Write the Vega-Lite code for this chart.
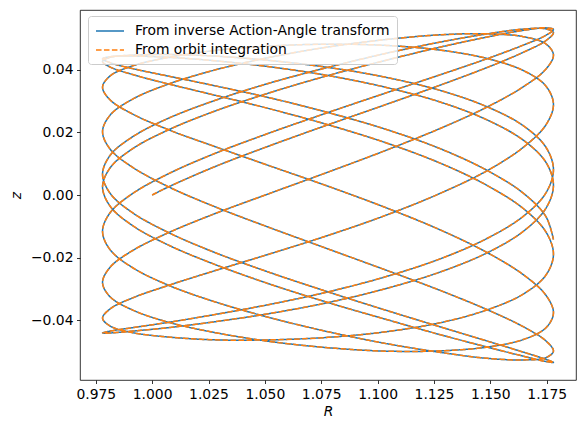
{
"$schema": "https://vega.github.io/schema/vega-lite/v6.json",
"width": 496, "height": 370,
"autosize": {"type": "none"},
"padding": {"left": 80, "top": 10, "right": 11, "bottom": 52},
"background": "white",
"config": {"view": {"stroke": "black", "strokeWidth": 0.8}, "font": "DejaVu Sans"},
"datasets": {"orbit": [
{"i":2,"R":1.0,"z":0.0},
{"i":3,"R":1.0073,"z":0.0026},{"i":4,"R":1.028,"z":0.0091},{"i":5,"R":1.0521,"z":0.0157},{"i":6,"R":1.078,"z":0.0224},{"i":7,"R":1.1039,"z":0.0289},{"i":8,"R":1.128,"z":0.0351},{"i":9,"R":1.1487,"z":0.0407},{"i":10,"R":1.1646,"z":0.0455},{"i":11,"R":1.1746,"z":0.0492},{"i":12,"R":1.178,"z":0.0518},
{"i":13,"R":1.1746,"z":0.0530},{"i":14,"R":1.1646,"z":0.0529},{"i":15,"R":1.1487,"z":0.0514},{"i":16,"R":1.128,"z":0.0488},{"i":17,"R":1.1039,"z":0.0452},{"i":18,"R":1.078,"z":0.0407},{"i":19,"R":1.0521,"z":0.0357},{"i":20,"R":1.028,"z":0.0302},{"i":21,"R":1.0073,"z":0.0245},{"i":22,"R":0.9914,"z":0.0186},{"i":23,"R":0.9814,"z":0.0127},{"i":24,"R":0.978,"z":0.0066},
{"i":25,"R":0.9814,"z":0.0005},{"i":26,"R":0.9914,"z":-0.0057},{"i":27,"R":1.0073,"z":-0.0120},{"i":28,"R":1.028,"z":-0.0184},{"i":29,"R":1.0521,"z":-0.0247},{"i":30,"R":1.078,"z":-0.0309},{"i":31,"R":1.1039,"z":-0.0368},{"i":32,"R":1.128,"z":-0.0421},{"i":33,"R":1.1487,"z":-0.0466},{"i":34,"R":1.1646,"z":-0.0501},{"i":35,"R":1.1746,"z":-0.0524},{"i":36,"R":1.178,"z":-0.0534},
{"i":37,"R":1.1746,"z":-0.0531},{"i":38,"R":1.1646,"z":-0.0514},{"i":39,"R":1.1487,"z":-0.0485},{"i":40,"R":1.128,"z":-0.0446},{"i":41,"R":1.1039,"z":-0.0397},{"i":42,"R":1.078,"z":-0.0343},{"i":43,"R":1.0521,"z":-0.0284},{"i":44,"R":1.028,"z":-0.0222},{"i":45,"R":1.0073,"z":-0.0160},{"i":46,"R":0.9914,"z":-0.0098},{"i":47,"R":0.9814,"z":-0.0036},{"i":48,"R":0.978,"z":0.0026},
{"i":49,"R":0.9814,"z":0.0087},{"i":50,"R":0.9914,"z":0.0148},{"i":51,"R":1.0073,"z":0.0208},{"i":52,"R":1.028,"z":0.0268},{"i":53,"R":1.0521,"z":0.0326},{"i":54,"R":1.078,"z":0.0381},{"i":55,"R":1.1039,"z":0.0430},{"i":56,"R":1.128,"z":0.0472},{"i":57,"R":1.1487,"z":0.0504},{"i":58,"R":1.1646,"z":0.0525},{"i":59,"R":1.1746,"z":0.0533},{"i":60,"R":1.178,"z":0.0528},
{"i":61,"R":1.1746,"z":0.0509},{"i":62,"R":1.1646,"z":0.0478},{"i":63,"R":1.1487,"z":0.0435},{"i":64,"R":1.128,"z":0.0384},{"i":65,"R":1.1039,"z":0.0326},{"i":66,"R":1.078,"z":0.0263},{"i":67,"R":1.0521,"z":0.0198},{"i":68,"R":1.028,"z":0.0133},{"i":69,"R":1.0073,"z":0.0068},{"i":70,"R":0.9914,"z":0.0005},{"i":71,"R":0.9814,"z":-0.0056},{"i":72,"R":0.978,"z":-0.0116},
{"i":73,"R":0.9814,"z":-0.0175},{"i":74,"R":0.9914,"z":-0.0232},{"i":75,"R":1.0073,"z":-0.0288},{"i":76,"R":1.028,"z":-0.0341},{"i":77,"R":1.0521,"z":-0.0391},{"i":78,"R":1.078,"z":-0.0436},{"i":79,"R":1.1039,"z":-0.0474},{"i":80,"R":1.128,"z":-0.0502},{"i":81,"R":1.1487,"z":-0.0521},{"i":82,"R":1.1646,"z":-0.0526},{"i":83,"R":1.1746,"z":-0.0519},{"i":84,"R":1.178,"z":-0.0498},
{"i":85,"R":1.1746,"z":-0.0465},{"i":86,"R":1.1646,"z":-0.0420},{"i":87,"R":1.1487,"z":-0.0366},{"i":88,"R":1.128,"z":-0.0305},{"i":89,"R":1.1039,"z":-0.0240},{"i":90,"R":1.078,"z":-0.0172},{"i":91,"R":1.0521,"z":-0.0104},{"i":92,"R":1.028,"z":-0.0038},{"i":93,"R":1.0073,"z":0.0026},{"i":94,"R":0.9914,"z":0.0088},{"i":95,"R":0.9814,"z":0.0146},{"i":96,"R":0.978,"z":0.0202},
{"i":97,"R":0.9814,"z":0.0255},{"i":98,"R":0.9914,"z":0.0306},{"i":99,"R":1.0073,"z":0.0354},{"i":100,"R":1.028,"z":0.0399},{"i":101,"R":1.0521,"z":0.0439},{"i":102,"R":1.078,"z":0.0472},{"i":103,"R":1.1039,"z":0.0496},{"i":104,"R":1.128,"z":0.0511},{"i":105,"R":1.1487,"z":0.0514},{"i":106,"R":1.1646,"z":0.0505},{"i":107,"R":1.1746,"z":0.0482},{"i":108,"R":1.178,"z":0.0447},
{"i":109,"R":1.1746,"z":0.0401},{"i":110,"R":1.1646,"z":0.0345},{"i":111,"R":1.1487,"z":0.0281},{"i":112,"R":1.128,"z":0.0213},{"i":113,"R":1.1039,"z":0.0143},{"i":114,"R":1.078,"z":0.0073},{"i":115,"R":1.0521,"z":0.0005},{"i":116,"R":1.028,"z":-0.0059},{"i":117,"R":1.0073,"z":-0.0120},{"i":118,"R":0.9914,"z":-0.0177},{"i":119,"R":0.9814,"z":-0.0230},{"i":120,"R":0.978,"z":-0.0279},
{"i":121,"R":0.9814,"z":-0.0325},{"i":122,"R":0.9914,"z":-0.0367},{"i":123,"R":1.0073,"z":-0.0406},{"i":124,"R":1.028,"z":-0.0439},{"i":125,"R":1.0521,"z":-0.0467},{"i":126,"R":1.078,"z":-0.0487},{"i":127,"R":1.1039,"z":-0.0498},{"i":128,"R":1.128,"z":-0.0497},{"i":129,"R":1.1487,"z":-0.0485},{"i":130,"R":1.1646,"z":-0.0461},{"i":131,"R":1.1746,"z":-0.0424},{"i":132,"R":1.178,"z":-0.0376},
{"i":133,"R":1.1746,"z":-0.0319},{"i":134,"R":1.1646,"z":-0.0254},{"i":135,"R":1.1487,"z":-0.0184},{"i":136,"R":1.128,"z":-0.0112},{"i":137,"R":1.1039,"z":-0.0041},{"i":138,"R":1.078,"z":0.0028},{"i":139,"R":1.0521,"z":0.0093},{"i":140,"R":1.028,"z":0.0154},{"i":141,"R":1.0073,"z":0.0208},{"i":142,"R":0.9914,"z":0.0258},{"i":143,"R":0.9814,"z":0.0303},{"i":144,"R":0.978,"z":0.0344},
{"i":145,"R":0.9814,"z":0.0380},{"i":146,"R":0.9914,"z":0.0412},{"i":147,"R":1.0073,"z":0.0439},{"i":148,"R":1.028,"z":0.0461},{"i":149,"R":1.0521,"z":0.0475},{"i":150,"R":1.078,"z":0.0481},{"i":151,"R":1.1039,"z":0.0477},{"i":152,"R":1.128,"z":0.0462},{"i":153,"R":1.1487,"z":0.0435},{"i":154,"R":1.1646,"z":0.0397},{"i":155,"R":1.1746,"z":0.0348},{"i":156,"R":1.178,"z":0.0289},
{"i":157,"R":1.1746,"z":0.0223},{"i":158,"R":1.1646,"z":0.0152},{"i":159,"R":1.1487,"z":0.0078},{"i":160,"R":1.128,"z":0.0006},{"i":161,"R":1.1039,"z":-0.0064},{"i":162,"R":1.078,"z":-0.0129},{"i":163,"R":1.0521,"z":-0.0188},{"i":164,"R":1.028,"z":-0.0241},{"i":165,"R":1.0073,"z":-0.0288},{"i":166,"R":0.9914,"z":-0.0328},{"i":167,"R":0.9814,"z":-0.0363},{"i":168,"R":0.978,"z":-0.0393},
{"i":169,"R":0.9814,"z":-0.0418},{"i":170,"R":0.9914,"z":-0.0439},{"i":171,"R":1.0073,"z":-0.0453},{"i":172,"R":1.028,"z":-0.0462},{"i":173,"R":1.0521,"z":-0.0462},{"i":174,"R":1.078,"z":-0.0454},{"i":175,"R":1.1039,"z":-0.0436},{"i":176,"R":1.128,"z":-0.0407},{"i":177,"R":1.1487,"z":-0.0366},{"i":178,"R":1.1646,"z":-0.0316},{"i":179,"R":1.1746,"z":-0.0256},{"i":180,"R":1.178,"z":-0.0189},
{"i":181,"R":1.1746,"z":-0.0117},{"i":182,"R":1.1646,"z":-0.0043},{"i":183,"R":1.1487,"z":0.0030},{"i":184,"R":1.128,"z":0.0101},{"i":185,"R":1.1039,"z":0.0166},{"i":186,"R":1.078,"z":0.0224},{"i":187,"R":1.0521,"z":0.0275},{"i":188,"R":1.028,"z":0.0318},{"i":189,"R":1.0073,"z":0.0354},{"i":190,"R":0.9914,"z":0.0384},{"i":191,"R":0.9814,"z":0.0408},{"i":192,"R":0.978,"z":0.0426},
{"i":193,"R":0.9814,"z":0.0439},{"i":194,"R":0.9914,"z":0.0446},{"i":195,"R":1.0073,"z":0.0448},{"i":196,"R":1.028,"z":0.0443},{"i":197,"R":1.0521,"z":0.0429},{"i":198,"R":1.078,"z":0.0407},{"i":199,"R":1.1039,"z":0.0375},{"i":200,"R":1.128,"z":0.0333},{"i":201,"R":1.1487,"z":0.0281},{"i":202,"R":1.1646,"z":0.0221},{"i":203,"R":1.1746,"z":0.0153},{"i":204,"R":1.178,"z":0.0081},
{"i":205,"R":1.1746,"z":0.0006},{"i":206,"R":1.1646,"z":-0.0068},{"i":207,"R":1.1487,"z":-0.0138},{"i":208,"R":1.128,"z":-0.0203},{"i":209,"R":1.1039,"z":-0.0260},{"i":210,"R":1.078,"z":-0.0309},{"i":211,"R":1.0521,"z":-0.0349},{"i":212,"R":1.028,"z":-0.0381},{"i":213,"R":1.0073,"z":-0.0406},{"i":214,"R":0.9914,"z":-0.0423},{"i":215,"R":0.9814,"z":-0.0434},{"i":216,"R":0.978,"z":-0.0440},
{"i":217,"R":0.9814,"z":-0.0440},{"i":218,"R":0.9914,"z":-0.0434},{"i":219,"R":1.0073,"z":-0.0423},{"i":220,"R":1.028,"z":-0.0404},{"i":221,"R":1.0521,"z":-0.0378},{"i":222,"R":1.078,"z":-0.0343},{"i":223,"R":1.1039,"z":-0.0298},{"i":224,"R":1.128,"z":-0.0245},{"i":225,"R":1.1487,"z":-0.0184},{"i":226,"R":1.1646,"z":-0.0116},{"i":227,"R":1.1746,"z":-0.0043},{"i":228,"R":1.178,"z":0.0031},
{"i":229,"R":1.1746,"z":0.0105},{"i":230,"R":1.1646,"z":0.0175},{"i":231,"R":1.1487,"z":0.0239},{"i":232,"R":1.128,"z":0.0296},{"i":233,"R":1.1039,"z":0.0343},{"i":234,"R":1.078,"z":0.0381},{"i":235,"R":1.0521,"z":0.0409},{"i":236,"R":1.028,"z":0.0428},{"i":237,"R":1.0073,"z":0.0439},{"i":238,"R":0.9914,"z":0.0443},{"i":239,"R":0.9814,"z":0.0441},{"i":240,"R":0.978,"z":0.0434},
{"i":241,"R":0.9814,"z":0.0422},{"i":242,"R":0.9914,"z":0.0403},{"i":243,"R":1.0073,"z":0.0379},{"i":244,"R":1.028,"z":0.0348},{"i":245,"R":1.0521,"z":0.0310},{"i":246,"R":1.078,"z":0.0263},{"i":247,"R":1.1039,"z":0.0209},{"i":248,"R":1.128,"z":0.0147},{"i":249,"R":1.1487,"z":0.0078},{"i":250,"R":1.1646,"z":0.0006},{"i":251,"R":1.1746,"z":-0.0068},{"i":252,"R":1.178,"z":-0.0142}
]},
"data": {"name": "orbit"},
"encoding": {
  "x": {"field": "R", "type": "quantitative",
    "scale": {"domain": [0.968, 1.188], "nice": false, "zero": false},
    "axis": {"title": "R", "values": [0.975, 1.0, 1.025, 1.05, 1.075, 1.1, 1.125, 1.15, 1.175], "format": ".3f",
      "grid": false, "domain": false, "tickColor": "black", "tickSize": 3.5, "tickWidth": 0.8,
      "labelFontSize": 13.9, "labelFont": "DejaVu Sans", "labelColor": "black", "labelPadding": 3.5, "labelOverlap": false, "labelFlush": false,
      "titleFontSize": 13.9, "titleFont": "DejaVu Sans", "titleFontStyle": "italic", "titleFontWeight": "normal", "titleColor": "black", "titlePadding": 4}},
  "y": {"field": "z", "type": "quantitative",
    "scale": {"domain": [-0.059, 0.059], "nice": false, "zero": false},
    "axis": {"title": "z", "values": [-0.04, -0.02, 0, 0.02, 0.04], "format": ".2f",
      "grid": false, "domain": false, "tickColor": "black", "tickSize": 3.5, "tickWidth": 0.8,
      "labelFontSize": 13.9, "labelFont": "DejaVu Sans", "labelColor": "black", "labelPadding": 3.5, "labelOverlap": false, "labelFlush": false,
      "titleFontSize": 13.9, "titleFont": "DejaVu Sans", "titleFontStyle": "italic", "titleFontWeight": "normal", "titleColor": "black", "titlePadding": 7}},
  "order": {"field": "i", "type": "quantitative"}
},
"layer": [
  {"mark": {"type": "line", "strokeWidth": 1.5, "interpolate": "catmull-rom"},
   "encoding": {
     "color": {"datum": "From inverse Action-Angle transform", "type": "nominal",
       "scale": {"domain": ["From inverse Action-Angle transform", "From orbit integration"], "range": ["#1f77b4", "#ff7f0e"]},
       "legend": {"title": null, "orient": "none", "legendX": 8, "legendY": 6, "fillColor": "rgba(255,255,255,0.8)", "strokeColor": "#cccccc", "cornerRadius": 3, "padding": 7, "labelFontSize": 13.9, "labelFont": "DejaVu Sans", "labelColor": "black", "symbolType": "M-1,0H3", "symbolSize": 196, "symbolStrokeWidth": 1.5, "rowPadding": 4, "labelOffset": 24, "labelLimit": 400}},
     "strokeDash": {"datum": "From inverse Action-Angle transform", "type": "nominal",
       "scale": {"domain": ["From inverse Action-Angle transform", "From orbit integration"], "range": [[1, 0], [5.55, 2.4]]},
       "legend": {"title": null, "orient": "none", "legendX": 8, "legendY": 6, "fillColor": "rgba(255,255,255,0.8)", "strokeColor": "#cccccc", "cornerRadius": 3, "padding": 7, "labelFontSize": 13.9, "labelFont": "DejaVu Sans", "labelColor": "black", "symbolType": "M-1,0H3", "symbolSize": 196, "symbolStrokeWidth": 1.5, "rowPadding": 4, "labelOffset": 24, "labelLimit": 400}}
   }},
  {"mark": {"type": "line", "strokeWidth": 1.5, "interpolate": "catmull-rom"},
   "encoding": {
     "color": {"datum": "From orbit integration", "type": "nominal"},
     "strokeDash": {"datum": "From orbit integration", "type": "nominal"}
   }}
]
}
